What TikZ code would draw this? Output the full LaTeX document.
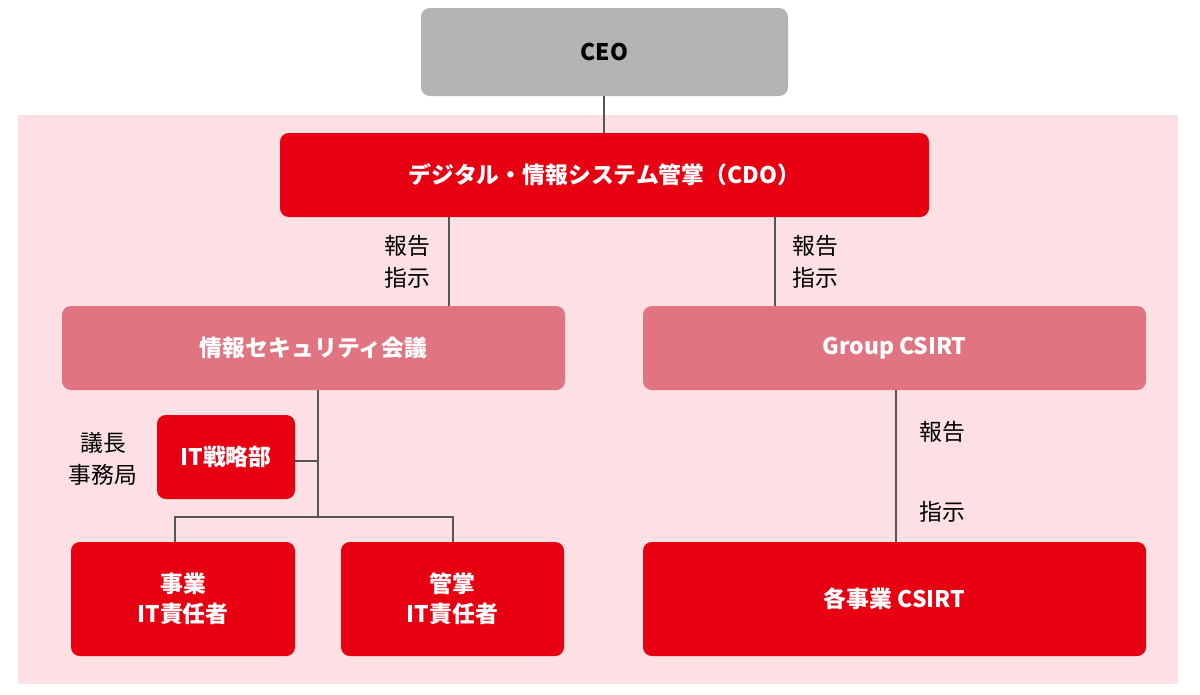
\documentclass[tikz,border=0pt]{standalone}
\usepackage{fontspec}
\setmainfont{Noto Sans CJK JP}
\definecolor{bgpink}{HTML}{FCE0E3}
\definecolor{cred}{HTML}{E60012}
\definecolor{cpink}{HTML}{E07480}
\definecolor{cgray}{HTML}{B3B3B3}
\definecolor{cline}{HTML}{555555}
\begin{document}
\begin{tikzpicture}[x=0.02cm,y=-0.02cm,
  box/.style={rounded corners=5pt,draw=none,font=\fontsize{13}{17}\selectfont\bfseries,align=center},
  lab/.style={font=\fontsize{13}{18}\selectfont,align=center,inner sep=0pt},
  ln/.style={draw=cline,line width=1.2pt}]
\useasboundingbox (0,0) rectangle (1200,694);
\fill[bgpink] (18,115) rectangle (1178,684);
\fill[cgray,rounded corners=5pt] (421,8) rectangle (788,96);
\node[box] (ceo) at (604.5,52) {CEO};
\fill[cred,rounded corners=5pt] (280,133) rectangle (929,217);
\node[box,text=white] (cdo) at (604.5,175) {デジタル・情報システム管掌（CDO）};
\fill[cpink,rounded corners=5pt] (62,306) rectangle (565,390);
\node[box,text=white] (sec) at (313.5,348) {情報セキュリティ会議};
\fill[cpink,rounded corners=5pt] (643,306) rectangle (1146,390);
\node[box,text=white] (grp) at (894.5,348) {Group CSIRT};
\fill[cred,rounded corners=5pt] (157,415) rectangle (295,499);
\node[box,text=white] (its) at (226,457) {IT戦略部};
\fill[cred,rounded corners=5pt] (71,542) rectangle (295,656);
\node[box,text=white] (biz) at (183,599) {事業\\IT責任者};
\fill[cred,rounded corners=5pt] (341,542) rectangle (564,656);
\node[box,text=white] (kan) at (452.5,599) {管掌\\IT責任者};
\fill[cred,rounded corners=5pt] (643,542) rectangle (1146,656);
\node[box,text=white] (each) at (894.5,599) {各事業 CSIRT};
% connectors
\coordinate (a1) at (604,96); \coordinate (a2) at (604,133);
\draw[ln] (a1) -- (a2);
\coordinate (b1) at (449,217); \coordinate (b2) at (449,306);
\draw[ln] (b1) -- (b2);
\coordinate (c1) at (775,217); \coordinate (c2) at (775,306);
\draw[ln] (c1) -- (c2);
\coordinate (t0) at (318,390); \coordinate (t1) at (318,517);
\draw[ln] (t0) -- (t1);
\coordinate (s1) at (295,461); \coordinate (s2) at (318,461);
\draw[ln] (s1) -- (s2);
\coordinate (h1) at (175,542); \coordinate (h2) at (175,517);
\coordinate (h3) at (453,517); \coordinate (h4) at (453,542);
\draw[ln] (h1) -- (h2) -- (h3) -- (h4);
\coordinate (g1) at (896,390); \coordinate (g2) at (896,542);
\draw[ln] (g1) -- (g2);
% labels
\node[lab] (l1) at (407,262) {報告\\指示};
\node[lab] (l2) at (815,262) {報告\\指示};
\node[lab] (l3) at (942,432) {報告};
\node[lab] (l4) at (942,512) {指示};
\node[lab] (l5) at (103,459) {議長\\事務局};
\end{tikzpicture}
\end{document}
